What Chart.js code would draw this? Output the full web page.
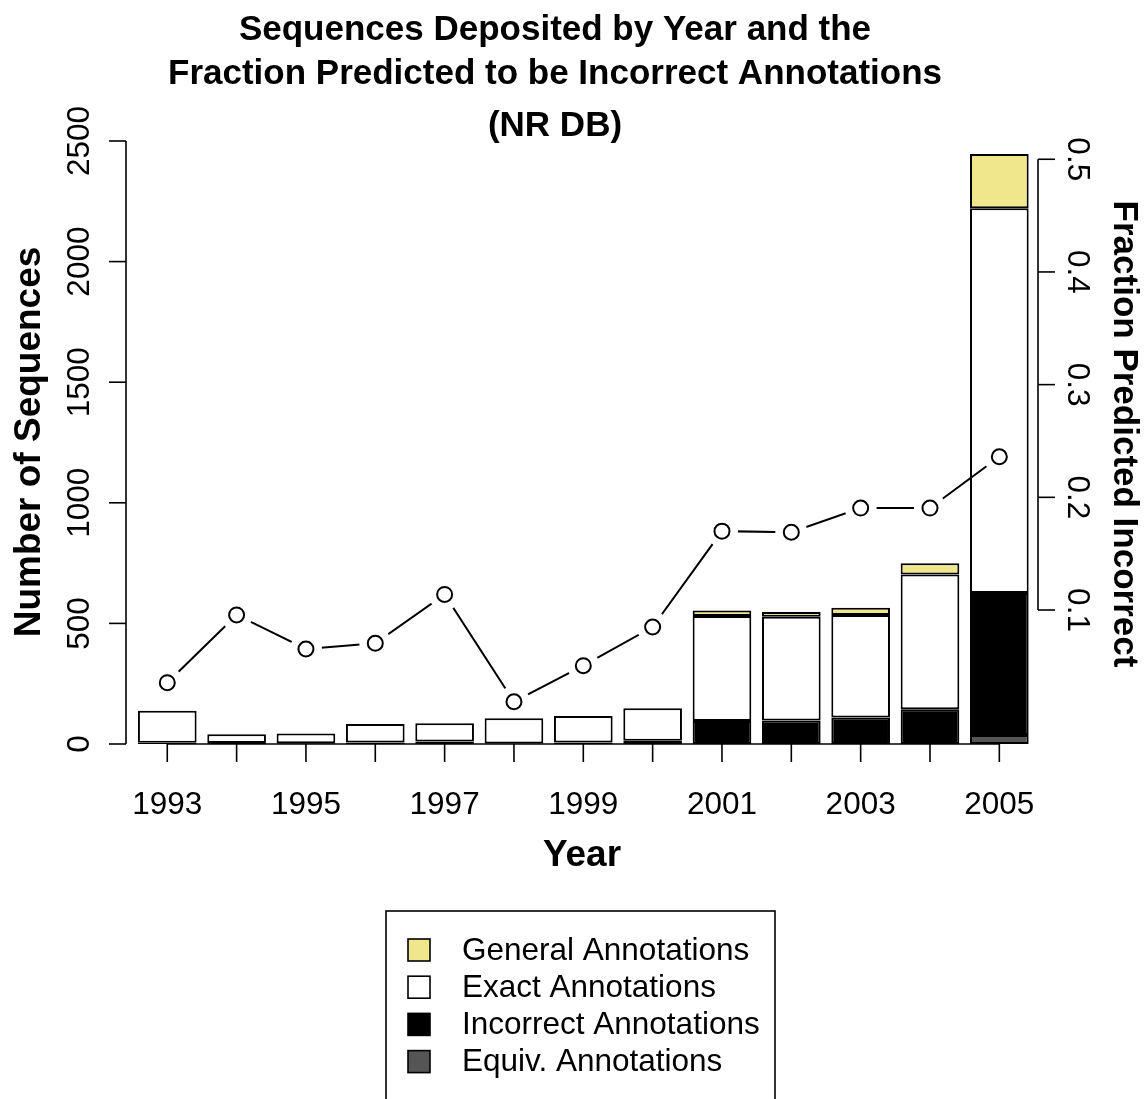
<!DOCTYPE html>
<html>
<head>
<meta charset="utf-8">
<script src="https://cdn.jsdelivr.net/npm/chart.js@4/dist/chart.umd.min.js"></script>
<style>
  body { margin: 0; background: #fff; }
  #wrap { width: 1144px; height: 1099px; }
</style>
</head>
<body>
<div id="wrap"><canvas id="nrChart" width="1144" height="1099"></canvas></div>
<script>
// Datos
const years = ["1993", "1994", "1995", "1996", "1997", "1998", "1999", "2000", "2001", "2002", "2003", "2004", "2005"];
const equivAnnot = [null, null, null, null, null, null, null, null, null, null, null, null, 37];
const incorrectAnnot = [5, 4, 3, 6, 10, 2, 6, 13, 95, 97, 110, 144, 589];
const exactAnnot = [133, 36, 41, 77, 76, 105, 110, 135, 436, 431, 425, 559, 1595];
const generalAnnot = [null, null, null, null, null, null, null, null, 22, 19, 30, 46, 225];
const fractionIncorrect = [0.0355, 0.0956, 0.0654, 0.0705, 0.1138, 0.0186, 0.0506, 0.0849, 0.170, 0.169, 0.1905, 0.1905, 0.236];

const xTickLabels = ["1993", "1995", "1997", "1999", "2001", "2003", "2005"];
const leftTicks = [0, 500, 1000, 1500, 2000, 2500];
const rightTicks = [0.1, 0.2, 0.3, 0.4, 0.5];
const titleLines = ["Sequences Deposited by Year and the", "Fraction Predicted to be Incorrect Annotations", "(NR DB)"];

const FONT = "'Liberation Sans', Arial, Helvetica, sans-serif";

// Ejes, títulos y leyenda al estilo de R
const ejesR = {
  id: "ejesR",
  afterDraw(chart) {
    const { ctx, scales } = chart;
    const x = scales.x, y = scales.y, y2 = scales.y2;
    const line = (x1, y1, x2, y2_) => {
      ctx.beginPath();
      ctx.moveTo(x1, y1);
      ctx.lineTo(x2, y2_);
      ctx.stroke();
    };
    const rotText = (txt, px, py, ang) => {
      ctx.save();
      ctx.translate(px, py);
      ctx.rotate(ang);
      ctx.fillText(txt, 0, 0);
      ctx.restore();
    };

    ctx.save();
    ctx.strokeStyle = "#000";
    ctx.fillStyle = "#000";
    ctx.lineWidth = 1.6;
    ctx.textAlign = "center";
    ctx.textBaseline = "middle";

    // eje izquierdo
    const xl = 126;
    line(xl, y.getPixelForValue(0), xl, y.getPixelForValue(2500));
    ctx.font = "31.5px " + FONT;
    leftTicks.forEach((v) => {
      const py = y.getPixelForValue(v);
      line(xl - 17, py, xl, py);
      rotText(String(v), 80, py, -Math.PI / 2);
    });

    // eje derecho
    const xr = 1038;
    line(xr, y2.getPixelForValue(0.1), xr, y2.getPixelForValue(0.5));
    rightTicks.forEach((v) => {
      const py = y2.getPixelForValue(v);
      line(xr, py, xr + 17, py);
      rotText(String(v), 1077, py, Math.PI / 2);
    });

    // eje inferior
    const yb = y.getPixelForValue(0);
    line(x.getPixelForValue(0), yb, x.getPixelForValue(years.length - 1), yb);
    years.forEach((yr, i) => {
      const px = x.getPixelForValue(i);
      line(px, yb, px, yb + 18);
      if (xTickLabels.includes(yr)) ctx.fillText(yr, px, 805);
    });

    // títulos
    ctx.font = "bold 35px " + FONT;
    ctx.fillText(titleLines[0], 555, 30);
    ctx.fillText(titleLines[1], 555, 74);
    ctx.fillText(titleLines[2], 555, 126);
    ctx.font = "bold 37px " + FONT;
    ctx.fillText("Year", 582, 856);
    rotText("Number of Sequences", 30, 442, -Math.PI / 2);
    ctx.font = "bold 35px " + FONT;
    rotText("Fraction Predicted Incorrect", 1124, 434, Math.PI / 2);

    // leyenda
    ctx.lineWidth = 1.6;
    ctx.strokeRect(386, 911, 389, 220);
    const legendItems = chart.data.datasets.filter((d) => d.type === "bar").slice().reverse();
    ctx.font = "31.5px " + FONT;
    ctx.textAlign = "left";
    legendItems.forEach((d, i) => {
      const cy = 950 + i * 37.2;
      ctx.fillStyle = d.backgroundColor;
      ctx.fillRect(408, cy - 11, 22, 22);
      ctx.strokeRect(408, cy - 11, 22, 22);
      ctx.fillStyle = "#000";
      ctx.fillText(d.label, 462, cy + 1);
    });
    ctx.restore();
  },
};

const barBase = {
  type: "bar",
  borderColor: "#000",
  borderWidth: 2,
  borderSkipped: false,
  barPercentage: 0.846,
  categoryPercentage: 1.0,
  yAxisID: "y",
  order: 10,
};

new Chart(document.getElementById("nrChart").getContext("2d"), {
  type: "bar",
  data: {
    labels: years,
    datasets: [
      { ...barBase, label: "Equiv. Annotations", data: equivAnnot, backgroundColor: "#555555" },
      { ...barBase, label: "Incorrect Annotations", data: incorrectAnnot, backgroundColor: "#000000" },
      { ...barBase, label: "Exact Annotations", data: exactAnnot, backgroundColor: "#ffffff" },
      { ...barBase, label: "General Annotations", data: generalAnnot, backgroundColor: "#F0E68C" },
      {
        type: "line",
        label: "fraccion",
        data: fractionIncorrect,
        yAxisID: "y2",
        borderColor: "#000",
        borderWidth: 2,
        pointRadius: 0,
        tension: 0,
        order: 3,
      },
      {
        // hueco blanco alrededor de cada punto (type="b" de R)
        type: "line",
        label: "hueco",
        data: fractionIncorrect,
        yAxisID: "y2",
        showLine: false,
        pointRadius: 16,
        pointBorderWidth: 0,
        pointBackgroundColor: "#fff",
        pointBorderColor: "#fff",
        order: 2,
      },
      {
        type: "line",
        label: "puntos",
        data: fractionIncorrect,
        yAxisID: "y2",
        showLine: false,
        pointRadius: 7.5,
        pointBorderWidth: 2,
        pointBackgroundColor: "#fff",
        pointBorderColor: "#000",
        order: 1,
      },
    ],
  },
  options: {
    responsive: false,
    animation: false,
    layout: { padding: { left: 132.6, right: 110, top: 141, bottom: 355 } },
    plugins: { legend: { display: false }, tooltip: { enabled: false } },
    scales: {
      x: { stacked: true, display: false, offset: true, grid: { display: false } },
      y: { stacked: true, display: false, min: 0, max: 2500 },
      y2: { display: false, min: -0.0189, max: 0.5162 },
    },
  },
  plugins: [ejesR],
});
</script>
</body>
</html>
